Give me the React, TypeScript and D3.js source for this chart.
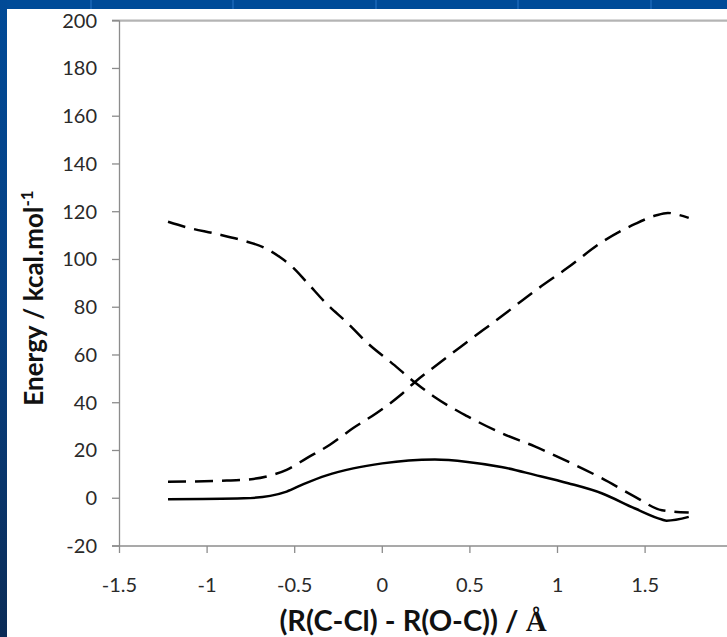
import React from "react";
import * as d3 from "d3";

// ---- data ----
const xTicks = [-1.5, -1, -0.5, 0, 0.5, 1, 1.5];
const yTicks = [-20, 0, 20, 40, 60, 80, 100, 120, 140, 160, 180, 200];

// solid curve (adiabatic ground state)
const groundX = [-1.223, -0.79, -0.64, -0.546, -0.45, -0.318, -0.166, 0.0, 0.15, 0.3, 0.487, 0.679, 0.87, 1.061, 1.252, 1.443, 1.596, 1.623, 1.749];
const groundY = [-0.4, 0.0, 1.0, 2.8, 5.9, 9.6, 12.5, 14.6, 15.8, 16.2, 15.2, 13.1, 9.8, 6.3, 2.1, -4.3, -8.9, -9.4, -7.8];

// dashed curve starting high (descending)
const diabAX = [-1.223, -1.118, -0.946, -0.793, -0.678, -0.583, -0.516, -0.43, -0.315, -0.2, -0.086, 0.048, 0.185, 0.296, 0.487, 0.679, 0.87, 1.061, 1.252, 1.443, 1.596, 1.749];
const diabAY = [115.8, 113.5, 110.7, 107.9, 105.1, 100.9, 97.1, 90.4, 81.2, 73.5, 65.1, 57.0, 48.6, 42.5, 34.3, 27.3, 21.7, 15.3, 8.4, 0.6, -5.0, -6.0];

// dashed curve starting low (ascending)
const diabBX = [-1.223, -0.888, -0.736, -0.641, -0.546, -0.431, -0.299, -0.166, -0.032, 0.101, 0.185, 0.296, 0.487, 0.679, 0.87, 1.061, 1.252, 1.443, 1.56, 1.63, 1.69, 1.749];
const diabBY = [6.9, 7.4, 8.1, 9.5, 11.9, 16.8, 22.4, 29.4, 35.7, 43.0, 48.6, 55.0, 65.6, 76.1, 86.8, 96.7, 107.2, 114.9, 118.4, 119.5, 118.7, 117.4];

const xLabel = "(R(C-Cl) - R(O-C)) / ";
const xLabelUnit = "Å";
const yLabel = "Energy / kcal.mol";
const yLabelSup = "-1";

const W = 727;
const H = 637;

export default function App() {
  const x = d3.scaleLinear().domain([-1.5, 2]).range([119.5, 732.7]);
  const y = d3.scaleLinear().domain([-20, 200]).range([546, 20.7]);

  const line = d3
    .line<[number, number]>()
    .x((d) => x(d[0]))
    .y((d) => y(d[1]))
    .curve(d3.curveMonotoneX);

  const zip = (a: number[], b: number[]) => a.map((v, i) => [v, b[i]] as [number, number]);

  const series = [
    { pts: zip(diabAX, diabAY), dash: "18 9" },
    { pts: zip(diabBX, diabBY), dash: "18 9" },
    { pts: zip(groundX, groundY), dash: null },
  ];

  const font = "Lato, 'Open Sans', sans-serif";

  return (
    <div style={{ position: "fixed", left: 0, top: 0, width: W, height: H }}>
      <svg width={W} height={H} style={{ display: "block" }}>
        <defs>
          <linearGradient id="leftStrip" x1="0" y1="0" x2="0" y2="1">
            <stop offset="0" stopColor="#004a97" />
            <stop offset="0.5" stopColor="#073f80" />
            <stop offset="1" stopColor="#0b2c57" />
          </linearGradient>
        </defs>
        <rect x={0} y={0} width={W} height={H} fill="#004b98" />
        <rect x={0} y={0} width={7} height={H} fill="url(#leftStrip)" />
        {[90, 232, 375, 517, 650].map((lx) => (
          <rect key={lx} x={lx} y={0} width={2} height={9} fill="#1460b0" />
        ))}
        <rect x={7} y={9} width={W - 7} height={H - 9} fill="#ffffff" />

        {/* top border */}
        <line x1={112} x2={W} y1={y(200)} y2={y(200)} stroke="#b4b4b4" strokeWidth={2.2} />
        {/* y axis */}
        <line x1={x(-1.5)} x2={x(-1.5)} y1={y(200)} y2={y(-20)} stroke="#8c8c8c" strokeWidth={1.3} />
        {/* x axis */}
        <line x1={112} x2={W} y1={y(-20)} y2={y(-20)} stroke="#8c8c8c" strokeWidth={1.3} />

        {yTicks.map((t) => (
          <g key={"y" + t}>
            <line x1={112} x2={x(-1.5)} y1={y(t)} y2={y(t)} stroke="#8c8c8c" strokeWidth={1.3} />
            <text
              x={97}
              y={y(t)}
              dy="0.35em"
              textAnchor="end"
              fontFamily={font}
              fontSize={20}
              fill="#2a2a2a"
            >
              {t}
            </text>
          </g>
        ))}
        {xTicks.map((t) => (
          <g key={"x" + t}>
            <line x1={x(t)} x2={x(t)} y1={y(-20)} y2={y(-20) + 7} stroke="#8c8c8c" strokeWidth={1.3} />
            <text
              x={x(t)}
              y={585}
              dy="0.35em"
              textAnchor="middle"
              fontFamily={font}
              fontSize={20}
              fill="#2a2a2a"
            >
              {t}
            </text>
          </g>
        ))}

        {series.map((s, i) => (
          <path
            key={i}
            d={line(s.pts) || ""}
            fill="none"
            stroke="#000"
            strokeWidth={2.5}
            strokeDasharray={s.dash || undefined}
          />
        ))}

        <text
          x={413}
          y={631}
          textAnchor="middle"
          fontFamily={font}
          fontWeight="bold"
          fontSize={29}
          fill="#111"
        >
          {xLabel}
          <tspan fontFamily="'Liberation Serif', 'Times New Roman', serif">{xLabelUnit}</tspan>
        </text>

        <text
          transform={`translate(43, 298) rotate(-90)`}
          textAnchor="middle"
          fontFamily={font}
          fontWeight="bold"
          fontSize={26}
          fill="#111"
        >
          {yLabel}
          <tspan dy={-10} fontSize={17}>
            {yLabelSup}
          </tspan>
        </text>
      </svg>
    </div>
  );
}
